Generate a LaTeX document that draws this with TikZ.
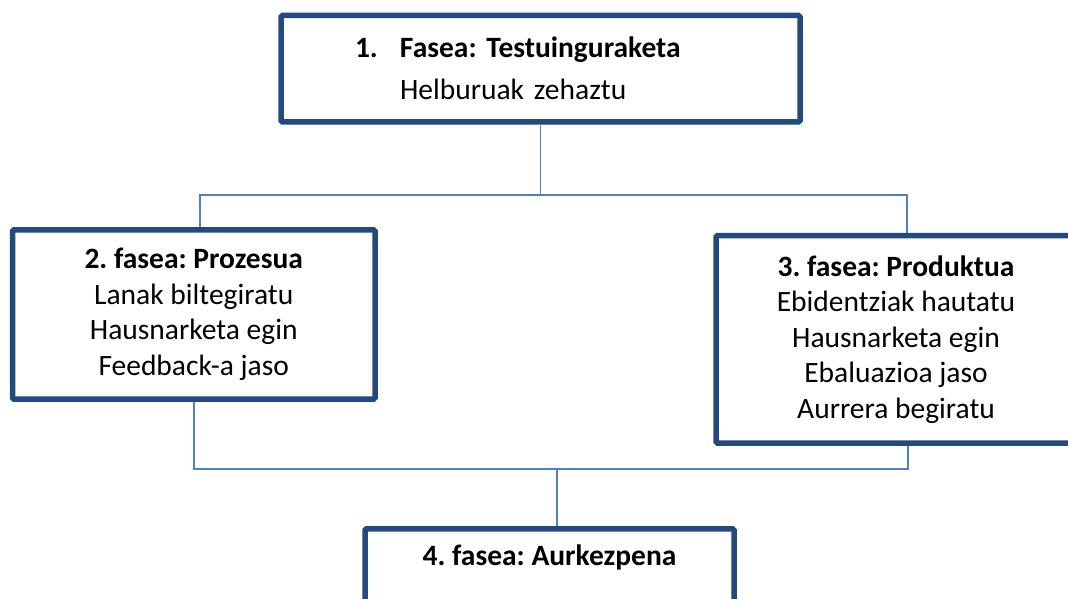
\documentclass[tikz,border=0pt]{standalone}
\usepackage{fontspec}
\setmainfont{Carlito}
\usetikzlibrary{positioning}
\usetikzlibrary{backgrounds}
\frenchspacing
\definecolor{boxblue}{HTML}{244A7D}
\definecolor{lineblue}{HTML}{4F81BD}
\tikzset{phase/.style = {draw=boxblue, line width=5.5pt, fill=white,
                         rounded corners=1.5pt, align=center,
                         font=\fontsize{29.5}{35.5}\selectfont}}
\tikzset{link/.style = {draw=lineblue, line width=1.8pt}}
\begin{document}
\begin{tikzpicture}[x=1pt,y=-1pt]
      \useasboundingbox (0,0) rectangle (1068,599);
      \clip (0,0) rectangle (1068,599);
      \node[phase, align=left, text width=371pt, inner xsep=74pt,
            minimum height=106.5pt]
        (p1) at (540.5,68.75)
        {\makebox[45pt][l]{\textbf{1.}}\textbf{Fasea: Testuinguraketa}\\[6.5pt]
         \hspace*{45pt}Helburuak zehaztu};
      \node[phase, minimum width=362.5pt, minimum height=169.3pt]
        (p2) at (193.75,314.5)
        {\textbf{2. fasea: Prozesua}\\ Lanak biltegiratu\\
         Hausnarketa egin\\ Feedback-a jaso};
      \node[phase, minimum width=360pt, minimum height=207.5pt]
        (p3) at (896,339.25)
        {\textbf{3. fasea: Produktua}\\ Ebidentziak hautatu\\
         Hausnarketa egin\\ Ebaluazioa jaso\\ Aurrera begiratu};
      \node[phase, minimum width=369pt, minimum height=130pt, anchor=north]
        (p4) at (549.5,526) {};
      \node[font=\fontsize{29.5}{35.5}\selectfont\bfseries]
        (t4) at ([yshift=-31pt]p4.north) {4. fasea: Aurkezpena};
      \coordinate (j1) at ([yshift=-70pt]p1.south);
      \coordinate (j2) at ([xshift=7.5pt,yshift=57pt]p4.north);
      \begin{scope}[on background layer]
        \draw[link] (p1.south) -- (j1);
        \draw[link] ([xshift=6pt]p2.north) |- (j1) -| ([xshift=11pt]p3.north);
        \draw[link] (p2.south) |- (j2) -| ([xshift=12pt]p3.south);
        \draw[link] (j2) -- ([xshift=7.5pt]p4.north);
      \end{scope}
    \end{tikzpicture}
\end{document}
